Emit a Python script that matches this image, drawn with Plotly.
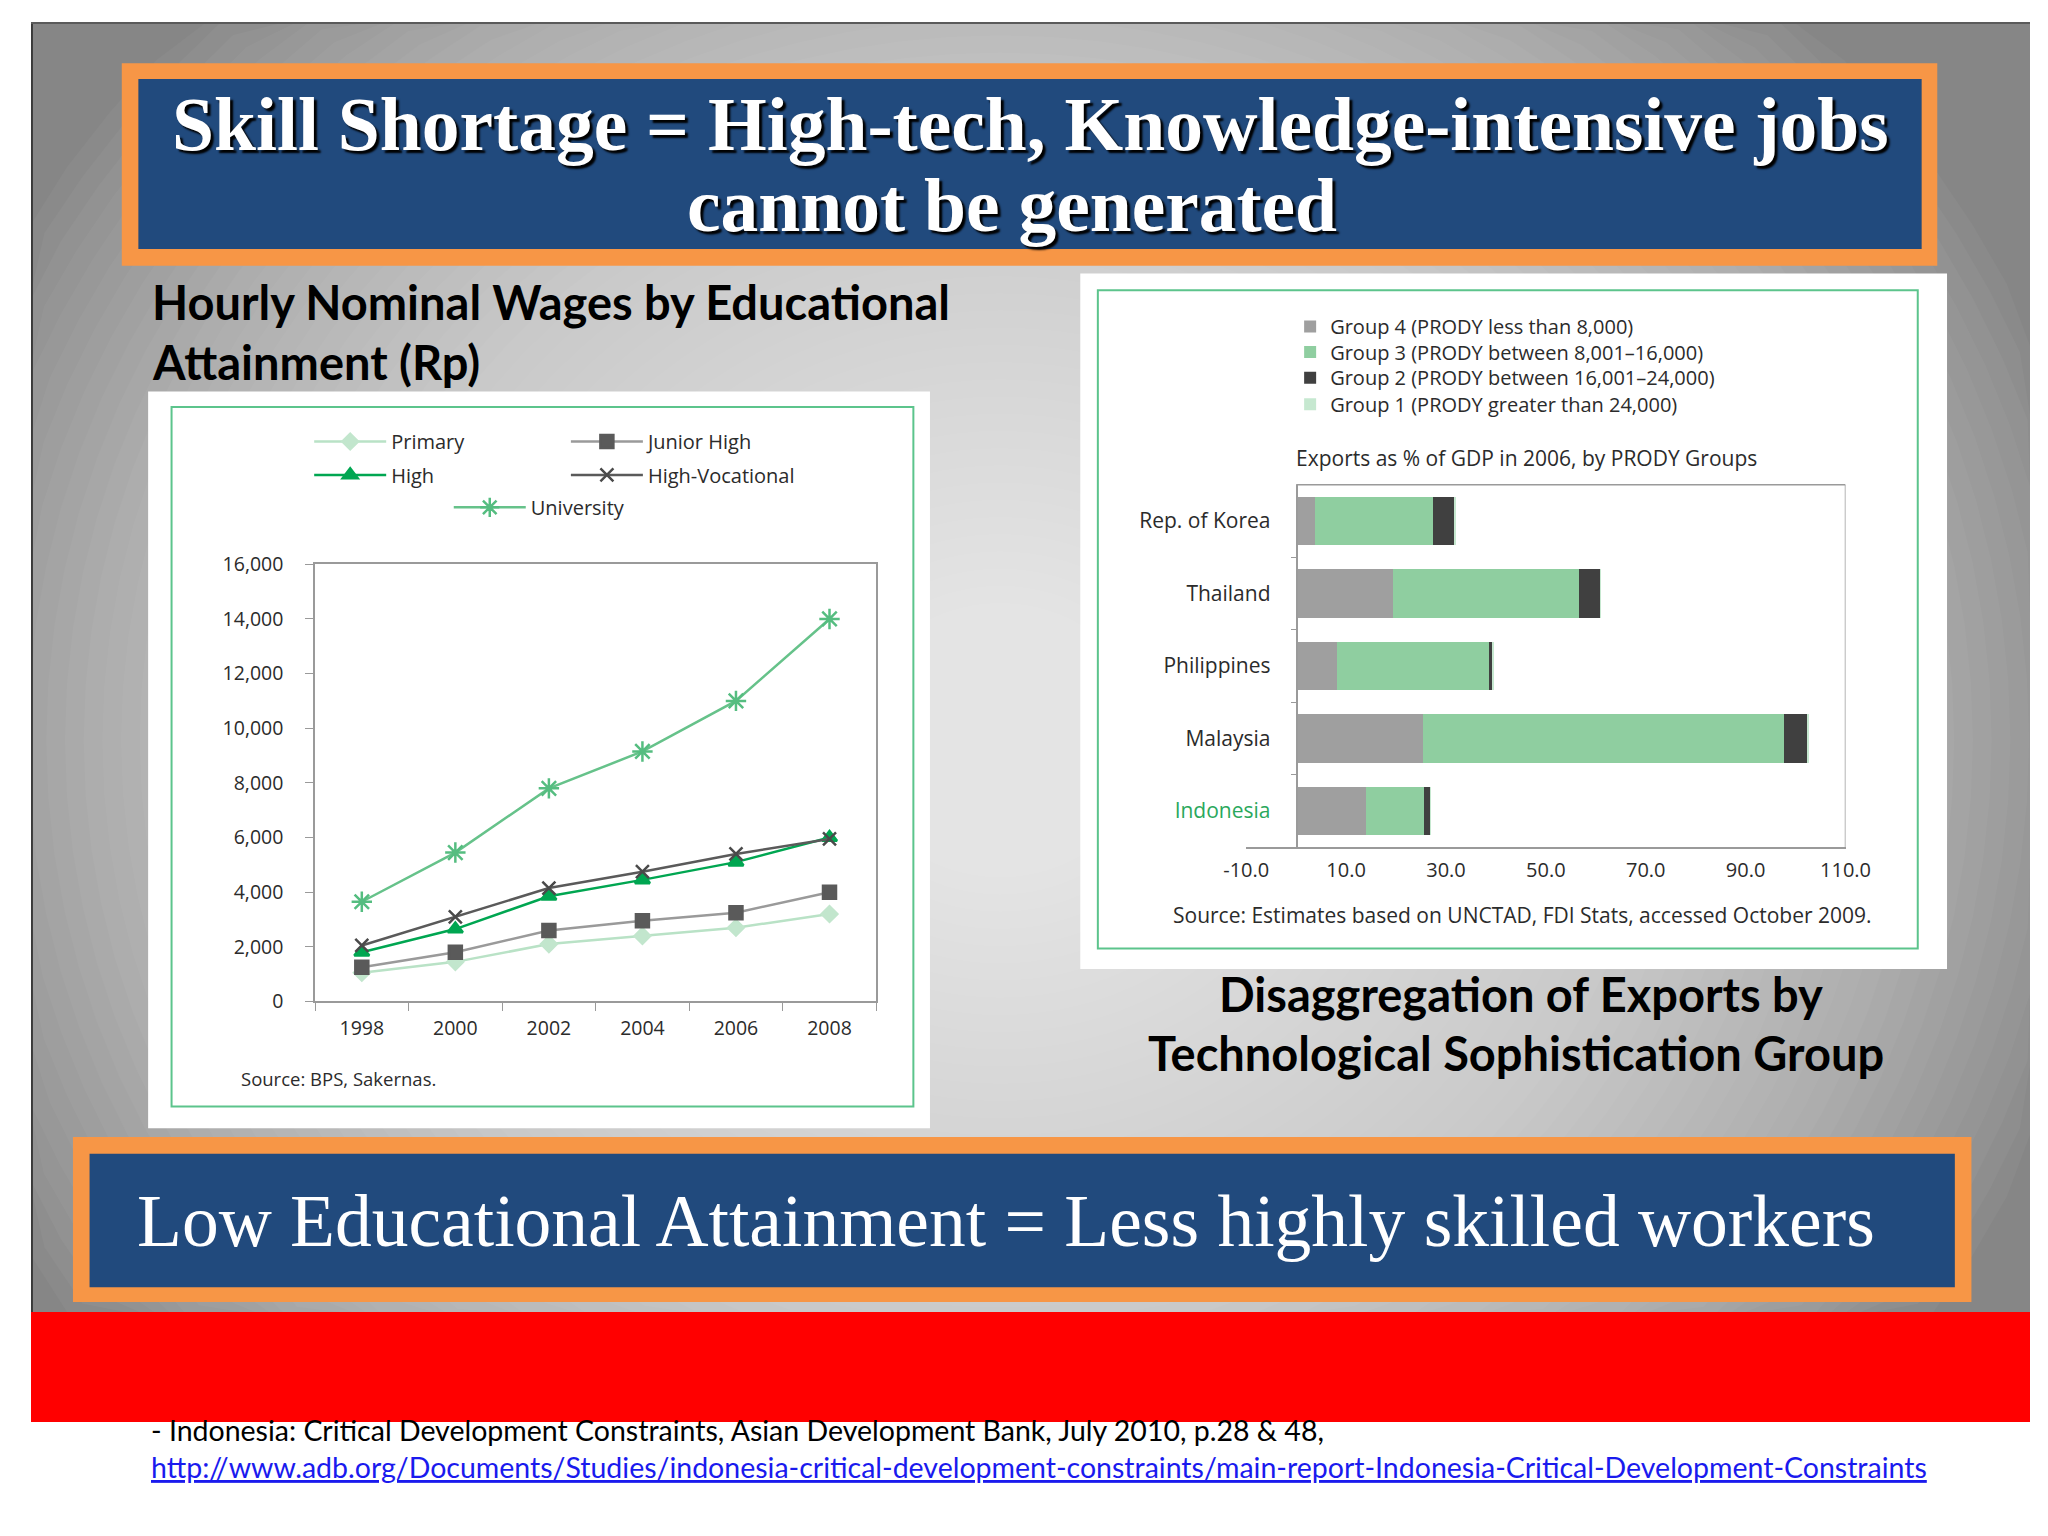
import math
import plotly.graph_objects as go

W, H = 2048, 1536
def px(x): return x / W
def py(y): return 1 - y / H

# ---------------- data ----------------
years = ["1998", "2000", "2002", "2004", "2006", "2008"]
primary = [1050, 1450, 2100, 2400, 2700, 3200]
junior_high = [1250, 1800, 2600, 2950, 3250, 4000]
high = [1800, 2650, 3850, 4450, 5100, 6000]
high_voc = [2050, 3100, 4150, 4750, 5400, 5950]
university = [3650, 5450, 7800, 9150, 11000, 14000]
wage_ticks = [0, 2000, 4000, 6000, 8000, 10000, 12000, 14000, 16000]

countries = ["Rep. of Korea", "Thailand", "Philippines", "Malaysia", "Indonesia"]
group4 = [3.8, 19.4, 8.2, 25.3, 14.0]
group3 = [23.7, 37.3, 30.4, 72.4, 11.6]
group2 = [4.2, 4.2, 0.8, 4.8, 1.3]
group1 = [0.2, 0.1, 0.1, 0.2, 0.1]
export_ticks = [-10, 10, 30, 50, 70, 90, 110]
group_names = ["Group 4 (PRODY less than 8,000)",
               "Group 3 (PRODY between 8,001\u201316,000)",
               "Group 2 (PRODY between 16,001\u201324,000)",
               "Group 1 (PRODY greater than 24,000)"]

CHART_FONT = "Open Sans"
TXT = "#2b2b2b"
FRAME = "#9a9a9a"

fig = go.Figure()

# ---------------- line chart ----------------
line_specs = [
    ("Primary", primary, "#b9e2c6", "diamond", "#c2e6cd", 12, "legend"),
    ("Junior High", junior_high, "#9a9a9a", "square", "#5a5a5a", 13, "legend2"),
    ("High", high, "#00a651", "triangle-up", "#00a651", 13, "legend3"),
    ("High-Vocational", high_voc, "#5a5a5a", "x-thin-open", "#4a4a4a", 13, "legend4"),
    ("University", university, "#66c28a", "asterisk-open", "#55bd80", 17, "legend5"),
]
for name, vals, lc, sym, mc, ms, lg in line_specs:
    fig.add_trace(go.Scatter(
        x=years, y=vals, name=name, mode="lines+markers",
        line=dict(color=lc, width=2.5),
        marker=dict(symbol=sym, color=mc, size=ms, line=dict(color=mc, width=2.5)),
        xaxis="x", yaxis="y", legend=lg, showlegend=True))

# ---------------- bar chart ----------------
bar_specs = [
    (group_names[0], group4, "#9f9f9f", "legend6"),
    (group_names[1], group3, "#8fcea0", "legend7"),
    (group_names[2], group2, "#404040", "legend8"),
    (group_names[3], group1, "#c6e8d0", "legend9"),
]
for name, vals, col, lg in bar_specs:
    fig.add_trace(go.Bar(
        x=vals, y=countries, orientation="h", name=name,
        marker=dict(color=col, line=dict(width=0)),
        xaxis="x2", yaxis="y2", legend=lg, showlegend=True))

ticktext = [f"<span style='color:#2aa85c'>{c}</span>" if c == "Indonesia" else c for c in countries]

# ---------------- background shapes ----------------
GRAY_BOTTOM = 1313
shapes = []
shapes.append(dict(type="rect", xref="paper", yref="paper", x0=0, x1=1, y0=py(GRAY_BOTTOM), y1=1,
                   fillcolor="#868686", line=dict(width=0), layer="below"))
cx, cy, rx, ry = 993, 731, 1150, 1050
N = 60
for k in range(N):
    s = 1 - k / N
    pts = []
    for i in range(96):
        t = 2 * math.pi * i / 96
        ex = min(max(cx + rx * s * math.cos(t), 0), W)
        ey = min(max(cy + ry * s * math.sin(t), 0), GRAY_BOTTOM)
        pts.append(f"{px(ex):.5f},{py(ey):.5f}")
    path = "M" + "L".join(pts) + "Z"
    shapes.append(dict(type="path", xref="paper", yref="paper", path=path,
                       fillcolor="rgba(255,255,255,0.037)", line=dict(width=0), layer="below"))
# thin dark slide edge
shapes.append(dict(type="rect", xref="paper", yref="paper", x0=0, x1=px(2), y0=py(GRAY_BOTTOM), y1=1,
                   fillcolor="#3a3a3a", line=dict(width=0), layer="below"))
shapes.append(dict(type="rect", xref="paper", yref="paper", x0=0, x1=1, y0=py(2), y1=1,
                   fillcolor="#5a5a5a", line=dict(width=0), layer="below"))
# red band
shapes.append(dict(type="rect", xref="paper", yref="paper", x0=0, x1=1, y0=py(1425), y1=py(GRAY_BOTTOM),
                   fillcolor="#ff0000", line=dict(width=0), layer="below"))

def rect(x0, y0, x1, y1, fill, line=None, lw=0):
    return dict(type="rect", xref="paper", yref="paper", x0=px(x0), x1=px(x1),
                y0=py(y1), y1=py(y0), fillcolor=fill,
                line=dict(width=lw, color=line or "rgba(0,0,0,0)"), layer="below")

# banners
shapes.append(rect(93, 42, 1953, 248, "#f79646"))
shapes.append(rect(110, 58, 1937, 231, "#214a7d"))
shapes.append(rect(43, 1135, 1988, 1303, "#f79646"))
shapes.append(rect(60, 1152, 1971, 1288, "#214a7d"))
# chart boxes
shapes.append(rect(120, 376, 921, 1126, "#ffffff"))
shapes.append(rect(144, 392, 904, 1104, "rgba(0,0,0,0)", "#5cc48c", 2))
shapes.append(rect(1075, 256, 1963, 964, "#ffffff"))
shapes.append(rect(1093, 273, 1933, 943, "rgba(0,0,0,0)", "#5cc48c", 2))
# bar chart frame (top and right)
shapes.append(dict(type="line", xref="x2", yref="y2 domain", x0=0, x1=110, y0=1, y1=1,
                   line=dict(color=FRAME, width=1.5)))
shapes.append(dict(type="line", xref="x2", yref="y2 domain", x0=110, x1=110, y0=0, y1=1,
                   line=dict(color=FRAME, width=1.5)))

# ---------------- annotations ----------------
ann = []
def text(t, x, y, size, family, color, xanchor="left", yanchor="middle", **kw):
    ann.append(dict(text=t, x=px(x), y=py(y), xref="paper", yref="paper", showarrow=False,
                    xanchor=xanchor, yanchor=yanchor,
                    font=dict(size=size, family=family, color=color, **kw)))

title_font = "Liberation Serif"
text("<b>Skill Shortage = High-tech, Knowledge-intensive jobs</b>", 1024, 104, 75.5, title_font,
     "white", xanchor="center", shadow="3px 3px 2px #000000")
text("<b>cannot be generated</b>", 1005, 187, 75.5, title_font, "white", xanchor="center",
     shadow="3px 3px 2px #000000")
text("Low Educational Attainment = Less highly skilled workers", 999, 1221, 73.5, title_font,
     "white", xanchor="center")

text("<b>Hourly Nominal Wages by Educational</b>", 122, 285, 47, "Lato", "#000000")
text("<b>Attainment (Rp)</b>", 122, 346, 47, "Lato", "#000000")
text("<b>Disaggregation of Exports by</b>", 1527, 989, 47, "Lato", "#000000", xanchor="center")
text("<b>Technological Sophistication Group</b>", 1521, 1049, 47, "Lato", "#000000", xanchor="center")

text("Source: BPS, Sakernas.", 213, 1075, 18.5, CHART_FONT, TXT)
text("Exports as % of GDP in 2006, by PRODY Groups", 1294, 444, 21, CHART_FONT, TXT)
text("Source: Estimates based on UNCTAD, FDI Stats, accessed October 2009.", 1168, 909, 21,
     CHART_FONT, TXT)

text("- Indonesia: Critical Development Constraints, Asian Development Bank, July 2010, p.28 & 48,",
     121, 1433, 28.5, "Lato", "#000000")
text("http://www.adb.org/Documents/Studies/indonesia-critical-development-constraints/main-report-Indonesia-Critical-Development-Constraints",
     121, 1471, 28.5, "Lato", "#1a1aee", lineposition="under")

# ---------------- legends ----------------
def lg(x, y, size=20, itemwidth=72):
    return dict(x=px(x), y=py(y), xanchor="left", yanchor="middle", bgcolor="rgba(0,0,0,0)",
                font=dict(family=CHART_FONT, size=size, color=TXT), itemwidth=itemwidth,
                borderwidth=0)

layout_legends = dict(
    legend=lg(285, 427), legend2=lg(548, 427), legend3=lg(285, 461), legend4=lg(548, 461),
    legend5=lg(428, 494),
    legend6=lg(1290, 310, 20, 30), legend7=lg(1290, 336, 20, 30),
    legend8=lg(1290, 362, 20, 30), legend9=lg(1290, 389, 20, 30),
)

fig.update_layout(
    width=W, height=H, margin=dict(l=0, r=0, t=0, b=0),
    paper_bgcolor="#ffffff", plot_bgcolor="rgba(0,0,0,0)",
    barmode="stack", bargap=0.33,
    shapes=shapes, annotations=ann,
    xaxis=dict(domain=[px(291), px(866)], anchor="y", type="category", range=[-0.5, 5.5],
               showline=True, linecolor=FRAME, linewidth=1.5, mirror=True,
               ticks="outside", tickson="boundaries", ticklen=8, tickcolor=FRAME,
               showgrid=False, zeroline=False, ticklabelstandoff=8,
               tickfont=dict(family=CHART_FONT, size=19.5, color=TXT)),
    yaxis=dict(domain=[py(997), py(552)], anchor="x", range=[0, 16000], tickvals=wage_ticks,
               tickformat=",d", showline=True, linecolor=FRAME, linewidth=1.5, mirror=True,
               ticks="outside", ticklen=8, tickcolor=FRAME, showgrid=False, zeroline=False,
               ticklabelstandoff=18,
               tickfont=dict(family=CHART_FONT, size=19.5, color=TXT)),
    xaxis2=dict(domain=[px(1245), px(1859)], anchor="y2", range=[-10, 110],
                tickvals=export_ticks, ticktext=[f"{v:.1f}" for v in export_ticks],
                showline=True, linecolor=FRAME, linewidth=1.5, ticks="", showgrid=False,
                zeroline=False, ticklabelstandoff=4,
                tickfont=dict(family=CHART_FONT, size=20, color=TXT)),
    yaxis2=dict(domain=[py(840), py(471)], anchor="free", position=px(1297.5),
                type="category", categoryorder="array", categoryarray=countries[::-1],
                tickvals=countries, ticktext=ticktext,
                showline=True, linecolor=FRAME, linewidth=1.5,
                ticks="outside", tickson="boundaries", ticklen=6, tickcolor=FRAME,
                ticklabelstandoff=22, showgrid=False, zeroline=False,
                tickfont=dict(family=CHART_FONT, size=21, color=TXT)),
    **layout_legends,
)

fig.write_html("out.html")
